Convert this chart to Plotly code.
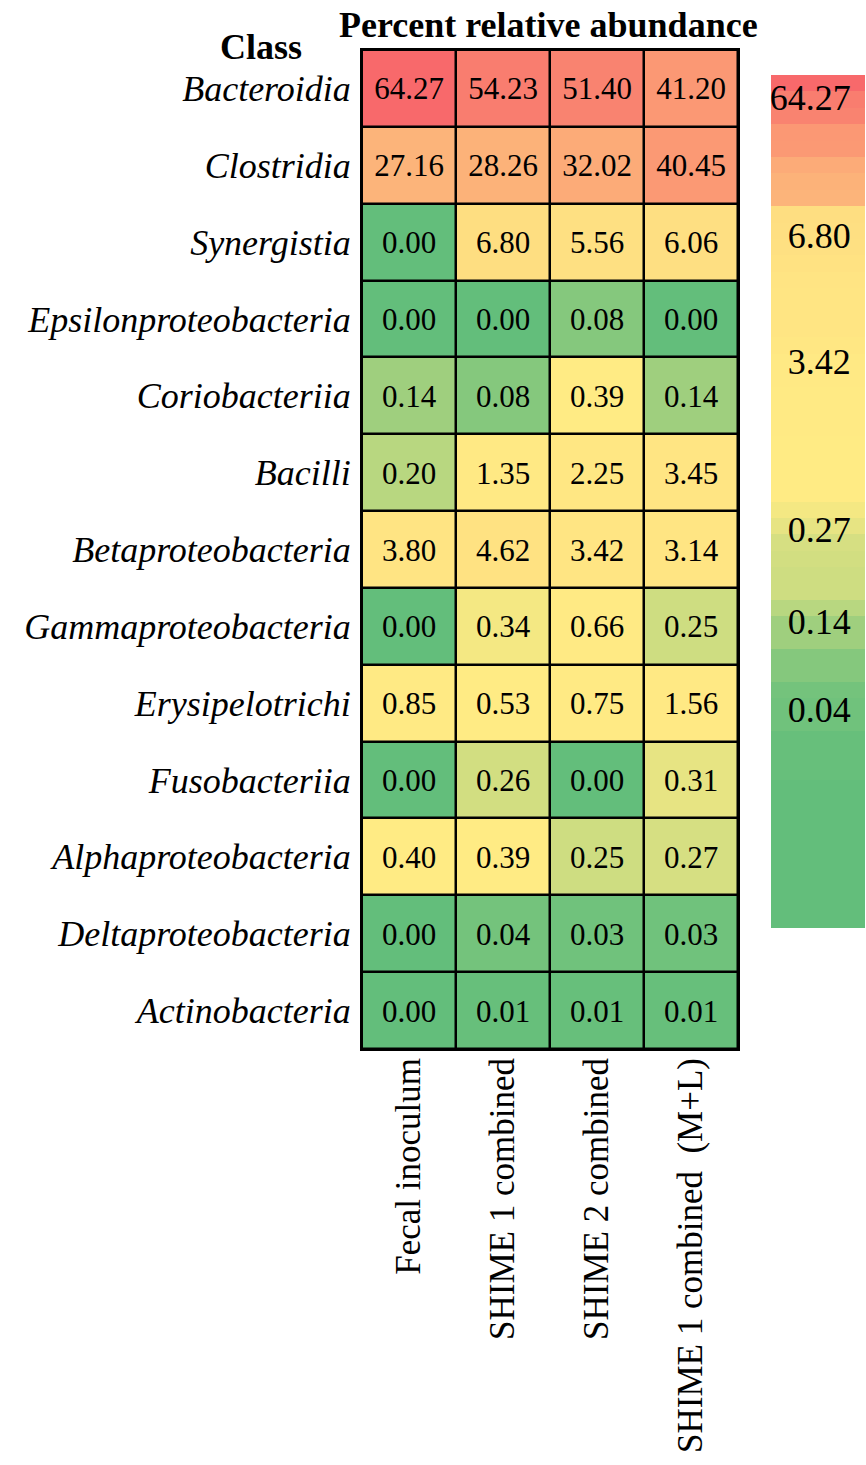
import plotly.graph_objects as go
import numpy as np

# ---- data ----
classes = ["Bacteroidia", "Clostridia", "Synergistia", "Epsilonproteobacteria",
           "Coriobacteriia", "Bacilli", "Betaproteobacteria", "Gammaproteobacteria",
           "Erysipelotrichi", "Fusobacteriia", "Alphaproteobacteria",
           "Deltaproteobacteria", "Actinobacteria"]
samples = ["Fecal inoculum", "SHIME 1 combined", "SHIME 2 combined",
           "SHIME 1 combined\u00a0 (M+L)"]
fecal = [64.27, 27.16, 0.00, 0.00, 0.14, 0.20, 3.80, 0.00, 0.85, 0.00, 0.40, 0.00, 0.00]
shime1 = [54.23, 28.26, 6.80, 0.00, 0.08, 1.35, 4.62, 0.34, 0.53, 0.26, 0.39, 0.04, 0.01]
shime2 = [51.40, 32.02, 5.56, 0.08, 0.39, 2.25, 3.42, 0.66, 0.75, 0.00, 0.25, 0.03, 0.01]
shime1_ml = [41.20, 40.45, 6.06, 0.00, 0.14, 3.45, 3.14, 0.25, 1.56, 0.31, 0.27, 0.03, 0.01]
legend_labels = [64.27, 6.80, 3.42, 0.27, 0.14, 0.04, 0.00]

# ---- layout constants ----
legend_label_pos = [0.974, 0.812, 0.664, 0.467, 0.359, 0.256, 0.019]
FONT = "Liberation Serif"
W, H = 866, 1465
ML, MR, MT, MB = 362, 128, 50, 416
PW, PH = W - ML - MR, H - MT - MB

vals = np.array([fecal, shime1, shime2, shime1_ml]).T  # rows = classes
flat = vals.flatten()
sorted_vals = sorted(flat.tolist())
n = len(sorted_vals)
vmin, vmax = min(sorted_vals), max(sorted_vals)
vmid = float(np.percentile(flat, 50))

green = np.array([99, 190, 123])
yellow = np.array([255, 235, 132])
red = np.array([248, 105, 107])


def excel_color(v):
    if v <= vmid:
        t = (v - vmin) / (vmid - vmin)
        c = green + (yellow - green) * t
    else:
        t = (v - vmid) / (vmax - vmid)
        c = yellow + (red - yellow) * t
    c = np.clip(np.round(c), 0, 255).astype(int)
    return f"rgb({c[0]},{c[1]},{c[2]})"


# stepped colorscale: one band per sorted value (rank based)
colorscale = []
for i, v in enumerate(sorted_vals):
    col = excel_color(v)
    colorscale.append([i / n, col])
    colorscale.append([(i + 1) / n, col])

z = [[(sorted_vals.index(v) + 0.5) / n for v in row] for row in vals]
text = [[f"{v:.2f}" for v in row] for row in vals]


def px_x(p):
    return (p - ML) / PW


def px_y(p):
    return (H - MB - p) / PH


fig = go.Figure(go.Heatmap(
    z=z, x=samples, y=classes, text=text, texttemplate="%{text}",
    textfont=dict(family=FONT, size=31, color="black"),
    colorscale=colorscale, zmin=0, zmax=1, xgap=2.5, ygap=2.5,
    hoverinfo="skip",
    colorbar=dict(
        x=px_x(771), xanchor="left", xpad=0, y=px_y(928), yanchor="bottom", ypad=0,
        len=(928 - 75) / PH, lenmode="fraction", thickness=94, outlinewidth=0,
        tickvals=legend_label_pos,
        ticktext=[f"{v:.2f}\u00a0\u00a0" for v in legend_labels],
        ticklabelposition="inside", ticks="",
        tickfont=dict(family=FONT, size=36, color="black"),
    ),
))

fig.update_layout(
    width=W, height=H,
    margin=dict(l=ML, r=MR, t=MT, b=MB, autoexpand=False),
    paper_bgcolor="white", plot_bgcolor="black",
    font=dict(family=FONT, color="black"),
    xaxis=dict(side="bottom", tickangle=-90, ticks="", automargin=False,
               ticklabelstandoff=-7,
               tickfont=dict(family=FONT, size=35),
               showline=True, linecolor="black", linewidth=2, mirror=True,
               showgrid=False, zeroline=False),
    yaxis=dict(autorange="reversed", ticks="outside", ticklen=2, automargin=False,
               tickcolor="rgba(0,0,0,0)",
               tickfont=dict(family=FONT, size=36, style="italic"),
               showline=True, linecolor="black", linewidth=2, mirror=True,
               showgrid=False, zeroline=False),
    annotations=[
        dict(text="<b>Percent relative abundance</b>", x=px_x(548), y=px_y(25),
             xref="paper", yref="paper", xanchor="center", yanchor="middle",
             showarrow=False, font=dict(family=FONT, size=36)),
        dict(text="<b>Class</b>", x=px_x(261), y=px_y(47),
             xref="paper", yref="paper", xanchor="center", yanchor="middle",
             showarrow=False, font=dict(family=FONT, size=36)),
    ],
)

fig.write_html("out.html",
               config={"displayModeBar": False},
               post_script="document.body.style.margin='0px';"
                           "document.body.style.overflow='hidden';")
